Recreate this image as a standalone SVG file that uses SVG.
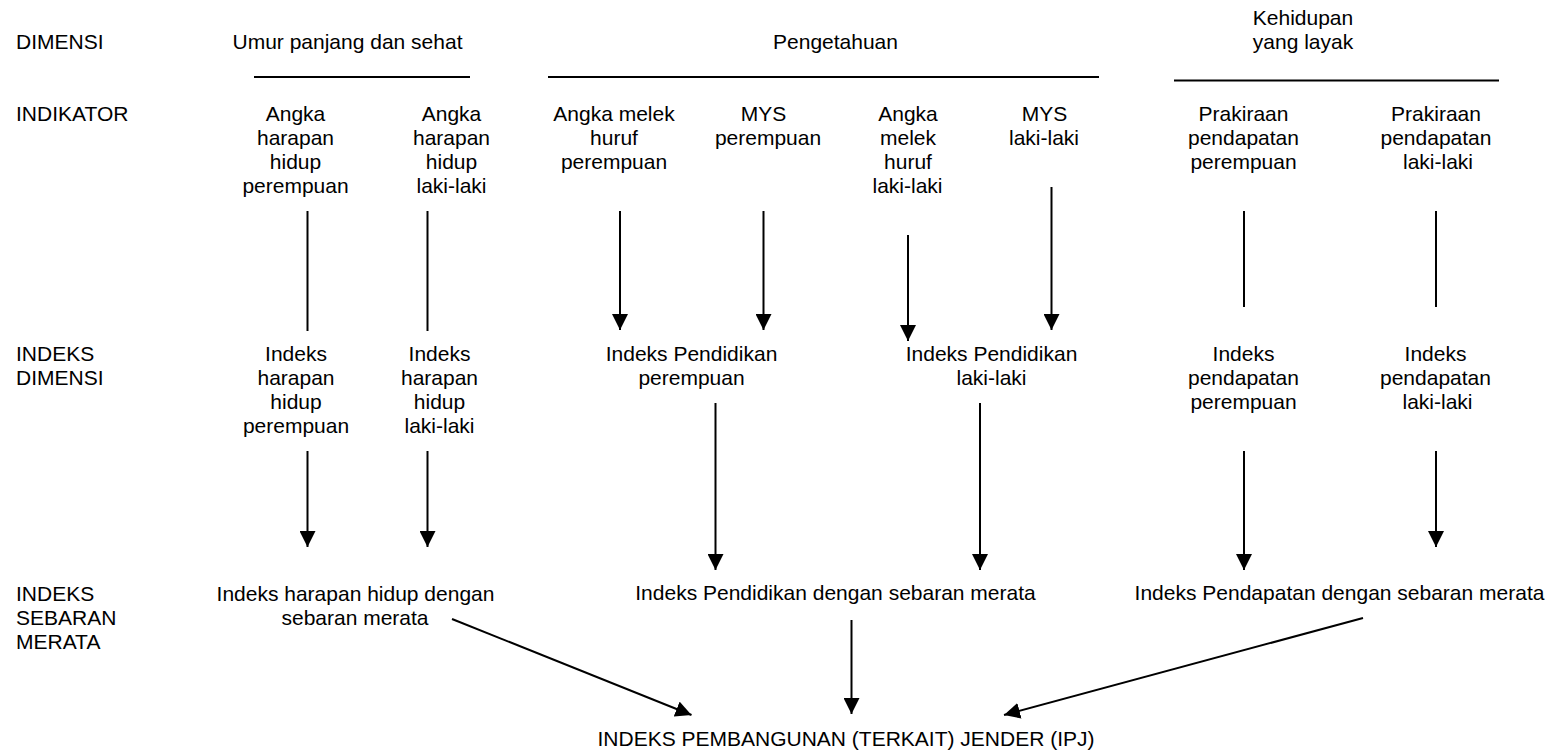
<svg xmlns="http://www.w3.org/2000/svg" width="1564" height="753" viewBox="0 0 1564 753">
<style>
text{font-family:"Liberation Sans",Arial,sans-serif;font-size:21px;fill:#000}
.c{text-anchor:middle}
.rule{stroke:#000;stroke-width:2;fill:none}
.ln{stroke:#000;stroke-width:2;fill:none}
.ar{stroke:#000;stroke-width:2;fill:none;marker-end:url(#ah)}
</style>
<defs>
<marker id="ah" markerUnits="userSpaceOnUse" markerWidth="16" markerHeight="16" refX="16" refY="8" orient="auto">
<path d="M0,0 L16,8 L0,16 Z" fill="#000"/>
</marker>
</defs>
<rect width="1564" height="753" fill="#fff"/>
<g id="row-labels">
<text x="16" y="49">DIMENSI</text>
<text x="16" y="121">INDIKATOR</text>
<text x="16" y="361">INDEKS</text>
<text x="16" y="385">DIMENSI</text>
<text x="16" y="601">INDEKS</text>
<text x="16" y="625">SEBARAN</text>
<text x="16" y="649">MERATA</text>
</g>
<g id="dim-umur">
<text class="c" x="347.5" y="49">Umur panjang dan sehat</text>
<line class="rule" x1="254" y1="77" x2="470" y2="77"/>
</g>
<g id="dim-pengetahuan">
<text class="c" x="835.5" y="49">Pengetahuan</text>
<line class="rule" x1="548" y1="77" x2="1099" y2="77"/>
</g>
<g id="dim-kehidupan">
<text class="c" x="1303" y="25">Kehidupan</text>
<text class="c" x="1303" y="49">yang layak</text>
<line class="rule" x1="1174" y1="80.5" x2="1499" y2="80.5"/>
</g>
<g id="ind-ahh-p">
<text class="c" x="295.5" y="121">Angka</text>
<text class="c" x="295.5" y="145">harapan</text>
<text class="c" x="295.5" y="169">hidup</text>
<text class="c" x="295.5" y="193">perempuan</text>
</g>
<g id="ind-ahh-l">
<text class="c" x="451.5" y="121">Angka</text>
<text class="c" x="451.5" y="145">harapan</text>
<text class="c" x="451.5" y="169">hidup</text>
<text class="c" x="451.5" y="193">laki-laki</text>
</g>
<g id="ind-amh-p">
<text class="c" x="614" y="121">Angka melek</text>
<text class="c" x="614" y="145">huruf</text>
<text class="c" x="614" y="169">perempuan</text>
</g>
<g id="ind-mys-p">
<text class="c" x="763.5" y="121">MYS</text>
<text class="c" x="768" y="145">perempuan</text>
</g>
<g id="ind-amh-l">
<text class="c" x="908" y="121">Angka</text>
<text class="c" x="908" y="145">melek</text>
<text class="c" x="908" y="169">huruf</text>
<text class="c" x="907.5" y="193">laki-laki</text>
</g>
<g id="ind-mys-l">
<text class="c" x="1044.5" y="121">MYS</text>
<text class="c" x="1044" y="145">laki-laki</text>
</g>
<g id="ind-pend-p">
<text class="c" x="1243.5" y="121">Prakiraan</text>
<text class="c" x="1243.5" y="145">pendapatan</text>
<text class="c" x="1243.5" y="169">perempuan</text>
</g>
<g id="ind-pend-l">
<text class="c" x="1436" y="121">Prakiraan</text>
<text class="c" x="1436" y="145">pendapatan</text>
<text class="c" x="1438" y="169">laki-laki</text>
</g>
<g id="idx-hh-p">
<text class="c" x="296" y="361">Indeks</text>
<text class="c" x="296" y="385">harapan</text>
<text class="c" x="296" y="409">hidup</text>
<text class="c" x="296" y="433">perempuan</text>
</g>
<g id="idx-hh-l">
<text class="c" x="439.5" y="361">Indeks</text>
<text class="c" x="439.5" y="385">harapan</text>
<text class="c" x="439.5" y="409">hidup</text>
<text class="c" x="439.5" y="433">laki-laki</text>
</g>
<g id="idx-pend-p">
<text class="c" x="691.5" y="361">Indeks Pendidikan</text>
<text class="c" x="691.5" y="385">perempuan</text>
</g>
<g id="idx-pend-l">
<text class="c" x="991.5" y="361">Indeks Pendidikan</text>
<text class="c" x="991.5" y="385">laki-laki</text>
</g>
<g id="idx-inc-p">
<text class="c" x="1243.5" y="361">Indeks</text>
<text class="c" x="1243.5" y="385">pendapatan</text>
<text class="c" x="1243.5" y="409">perempuan</text>
</g>
<g id="idx-inc-l">
<text class="c" x="1435.5" y="361">Indeks</text>
<text class="c" x="1435.5" y="385">pendapatan</text>
<text class="c" x="1437.5" y="409">laki-laki</text>
</g>
<g id="sm-hh">
<text class="c" x="355.5" y="601">Indeks harapan hidup dengan</text>
<text class="c" x="355" y="625">sebaran merata</text>
</g>
<g id="sm-pend">
<text class="c" x="835.5" y="600">Indeks Pendidikan dengan sebaran merata</text>
</g>
<g id="sm-inc">
<text class="c" x="1339.5" y="600">Indeks Pendapatan dengan sebaran merata</text>
</g>
<g id="ipj">
<text class="c" x="846" y="746">INDEKS PEMBANGUNAN (TERKAIT) JENDER (IPJ)</text>
</g>
<g id="connectors">
<line class="ln" x1="307.5" y1="211" x2="307.5" y2="331"/>
<line class="ln" x1="427.5" y1="211" x2="427.5" y2="331"/>
<line class="ar" x1="620" y1="211" x2="620" y2="330"/>
<line class="ar" x1="763.5" y1="211" x2="763.5" y2="330"/>
<line class="ar" x1="908" y1="235" x2="908" y2="341"/>
<line class="ar" x1="1051.5" y1="187" x2="1051.5" y2="330"/>
<line class="ln" x1="1244" y1="211" x2="1244" y2="307"/>
<line class="ln" x1="1436" y1="211" x2="1436" y2="307"/>
<line class="ar" x1="307.5" y1="451" x2="307.5" y2="547"/>
<line class="ar" x1="427.5" y1="451" x2="427.5" y2="547"/>
<line class="ar" x1="715.5" y1="403" x2="715.5" y2="570"/>
<line class="ar" x1="980" y1="403" x2="980" y2="570"/>
<line class="ar" x1="1244" y1="451" x2="1244" y2="570"/>
<line class="ar" x1="1436" y1="451" x2="1436" y2="547"/>
<line class="ar" x1="452" y1="619" x2="691.5" y2="715"/>
<line class="ar" x1="851.5" y1="620" x2="851.5" y2="714"/>
<line class="ar" x1="1363" y1="618" x2="1004" y2="715"/>
</g>
</svg>
